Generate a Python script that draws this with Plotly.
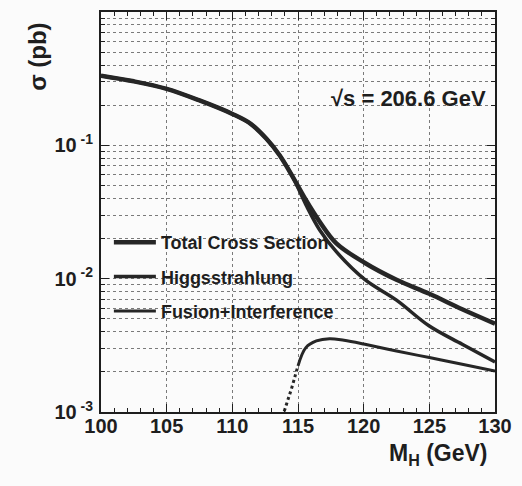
import plotly.graph_objects as go

# Higgs production cross sections at sqrt(s) = 206.6 GeV
mass_total = [100, 102.5, 105, 107.5, 110, 111.4, 112.6, 113.6, 114.6, 115.6,
              116.6, 117.9, 120.1, 122.5, 125.0, 127.5, 130]
sigma_total = [0.333, 0.302, 0.265, 0.217, 0.172, 0.145, 0.112, 0.0842, 0.058, 0.0389,
               0.0272, 0.0185, 0.0131, 0.0098, 0.0077, 0.0059, 0.0046]

mass_hz = [100, 102.5, 105, 107.5, 110, 111.4, 112.6, 113.6, 114.6, 115.6,
           116.65, 117.9, 120.1, 122.5, 125.0, 127.5, 130]
sigma_hz = [0.333, 0.302, 0.265, 0.217, 0.172, 0.145, 0.112, 0.0842, 0.058, 0.0359,
            0.0232, 0.0160, 0.00983, 0.0069, 0.00441, 0.00322, 0.00237]

# fusion + interference: dotted near threshold, solid above
mass_fus_low = [113.95, 114.25, 114.5, 114.75, 115.0]
sigma_fus_low = [0.00101, 0.00125, 0.00149, 0.00182, 0.00222]
mass_fus = [115.0, 115.6, 116.4, 117.4, 118.5, 120.1, 122.5, 125.0, 127.5, 130]
sigma_fus = [0.00222, 0.00304, 0.00341, 0.00355, 0.00345, 0.00322, 0.00287,
             0.00256, 0.00228, 0.00203]

y_tickvals = [0.001, 0.01, 0.1]
y_ticktext = ["10<sup> -3</sup>", "10<sup> -2</sup>", "10<sup> -1</sup>"]
x_tickvals = [100, 105, 110, 115, 120, 125, 130]

FONT = "Liberation Sans, Arial, Helvetica, sans-serif"
INK = "#1e1e1e"
LINE = "#262626"
GRID = "#7a7a7a"

fig = go.Figure()
fig.add_trace(go.Scatter(x=mass_total, y=sigma_total, mode="lines",
                         name="Total Cross Section", legendgroup="a",
                         line=dict(color=LINE, width=4.5, shape="spline")))
fig.add_trace(go.Scatter(x=mass_hz, y=sigma_hz, mode="lines",
                         name="Higgsstrahlung", legendgroup="b",
                         line=dict(color=LINE, width=3.5, shape="spline")))
fig.add_trace(go.Scatter(x=mass_fus, y=sigma_fus, mode="lines",
                         name="Fusion+Interference", legendgroup="c",
                         line=dict(color=LINE, width=3, shape="spline")))
fig.add_trace(go.Scatter(x=mass_fus_low, y=sigma_fus_low, mode="lines",
                         showlegend=False, legendgroup="c",
                         line=dict(color=LINE, width=3, dash="dot", shape="spline")))

fig.update_layout(
    width=522, height=486,
    margin=dict(l=101, r=27, t=10, b=73.5),
    paper_bgcolor="#fbfbfb", plot_bgcolor="#fbfbfb",
    font=dict(family=FONT, color=INK, size=20, weight="bold"),
    showlegend=True,
    legend=dict(x=0.02, y=0.47, xanchor="left", yanchor="top",
                bgcolor="rgba(0,0,0,0)", tracegroupgap=8, itemwidth=42,
                font=dict(size=18, family=FONT, color=INK, weight="bold"),
                traceorder="grouped"),
    annotations=[
        dict(text="\u221as = 206.6 GeV", xref="paper", yref="paper",
             x=0.983, y=0.784, xanchor="right", yanchor="middle",
             showarrow=False, font=dict(size=22, family=FONT, color=INK, weight="bold")),
        dict(text="\u03c3 (pb)", xref="paper", yref="paper",
             x=(38 - 101) / 394.5, y=(412.5 - 55) / 402.5,
             xanchor="center", yanchor="middle", textangle=-90,
             showarrow=False, font=dict(size=24, family=FONT, color=INK, weight="bold")),
        dict(text="M<sub>H</sub> (GeV)", xref="paper", yref="paper",
             x=(490 - 101) / 394.5, y=(412.5 - 439) / 402.5,
             xanchor="right", yanchor="top",
             showarrow=False, font=dict(size=23, family=FONT, color=INK, weight="bold")),
    ],
)

fig.update_xaxes(
    range=[100, 130], tickvals=x_tickvals, ticks="inside", ticklen=8, tickwidth=1,
    tickcolor=INK, showline=True, linewidth=2, linecolor=INK, mirror="ticks",
    showgrid=True, gridcolor=GRID, griddash="dot", gridwidth=1, zeroline=False,
    tickfont=dict(size=20, family=FONT, color=INK, weight="bold"),
    ticklabelstandoff=-5,
    minor=dict(dtick=1, ticks="inside", ticklen=4, tickcolor=INK, showgrid=False),
)
fig.update_yaxes(
    type="log", range=[-3, 0], tickvals=y_tickvals, ticktext=y_ticktext,
    ticks="inside", ticklen=8, tickwidth=1, tickcolor=INK,
    showline=True, linewidth=2, linecolor=INK, mirror="ticks",
    showgrid=True, gridcolor=GRID, griddash="dot", gridwidth=1, zeroline=False,
    tickfont=dict(size=20, family=FONT, color=INK, weight="bold"),
    ticklabelstandoff=2,
    minor=dict(dtick="D1", ticks="inside", ticklen=4, tickcolor=INK,
               showgrid=True, gridcolor=GRID, griddash="dot", gridwidth=1),
)

fig.write_html("out.html")
